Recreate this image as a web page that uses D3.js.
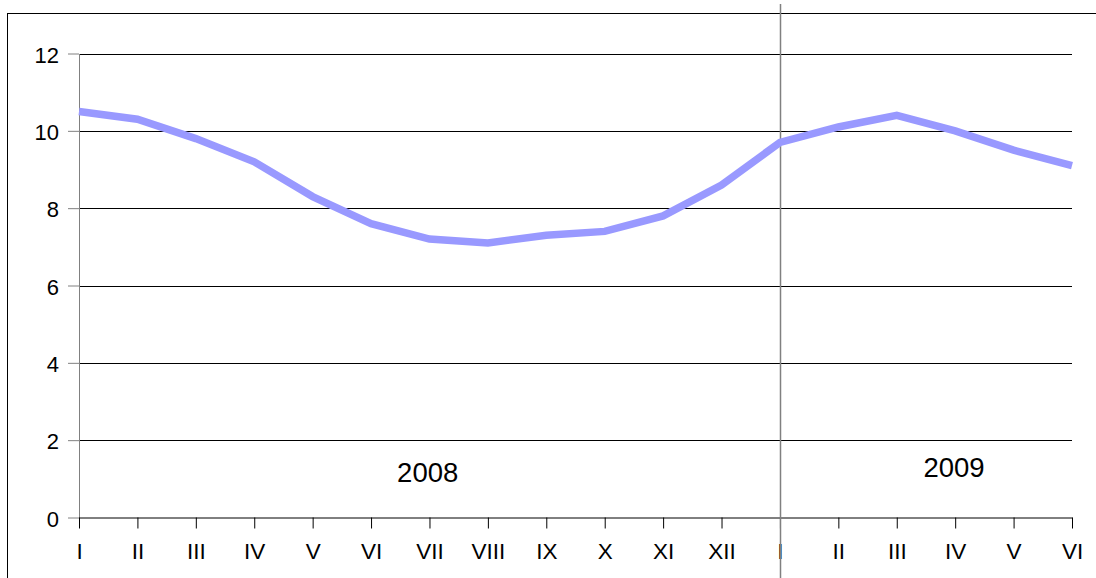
<!DOCTYPE html>
<html><head><meta charset="utf-8">
<script src="https://cdn.jsdelivr.net/npm/d3@7"></script>
<style>body{margin:0;background:#fff}svg{display:block;font-family:"Liberation Sans",Arial,sans-serif}</style>
</head><body>
<svg id="c" width="1096" height="578"></svg>
<script>
const months = ["I","II","III","IV","V","VI","VII","VIII","IX","X","XI","XII","I","II","III","IV","V","VI"];
const values = [10.5,10.3,9.8,9.2,8.3,7.6,7.2,7.1,7.3,7.4,7.8,8.6,9.7,10.1,10.4,10.0,9.5,9.1];
const yTicks = [0,2,4,6,8,10,12];
const years = ["2008","2009"];
const yearPos = [5.97,14.98];
const yearBreak = 12;

const svg = d3.select("#c");
const L = 79, R = 1072, T = 53.5, B = 517.5;
const x = d3.scaleLinear().domain([0, months.length-1]).range([L, R]);
const y = d3.scaleLinear().domain([0,12]).range([B, T]);

// outer frame
svg.append("rect").attr("x",7.5).attr("y",13.5).attr("width",1120).attr("height",600)
  .attr("fill","none").attr("stroke","#000").attr("stroke-width",1);

// gridlines
svg.append("g").selectAll("line").data(yTicks.filter(d=>d>0)).join("line")
  .attr("x1",L).attr("x2",R)
  .attr("y1",d=>Math.round(y(d))+0.5).attr("y2",d=>Math.round(y(d))+0.5)
  .attr("stroke","#000").attr("stroke-width",1);

// y axis
const ya = svg.append("g").attr("transform",`translate(${L},0)`)
  .call(d3.axisLeft(y).tickValues(yTicks).tickSize(11).tickPadding(9).tickSizeOuter(0));
ya.select(".domain").attr("stroke","#808080");
ya.selectAll(".tick line").attr("stroke","#808080");
ya.selectAll("text").attr("font-size",22).attr("fill","#000")
  .attr("font-family","'Liberation Sans',Arial,sans-serif").attr("dy","0.4em");

// x axis
const xa = svg.append("g").attr("transform",`translate(0,${B})`)
  .call(d3.axisBottom(x).tickValues(d3.range(months.length)).tickFormat(i=>months[i])
    .tickSize(11).tickPadding(15).tickSizeOuter(0));
xa.select(".domain").attr("stroke","#000");
xa.selectAll(".tick line").attr("stroke","#000");
xa.selectAll("text").attr("font-size",22.5).attr("fill","#000")
  .attr("font-family","'Liberation Sans',Arial,sans-serif");

// year divider
svg.append("line").attr("x1",Math.round(x(yearBreak))+0.5).attr("x2",Math.round(x(yearBreak))+0.5)
  .attr("y1",4).attr("y2",578).attr("stroke","#808080").attr("stroke-width",1.5);

// line
svg.append("path").datum(values)
  .attr("d",d3.line().x((d,i)=>x(i)).y(d=>y(d)))
  .attr("fill","none").attr("stroke","#9999ff").attr("stroke-width",7.5)
  .attr("stroke-linejoin","miter");

// year labels
svg.append("g").selectAll("text").data(years).join("text")
  .attr("x",(d,i)=>x(yearPos[i]))
  .attr("y",(d,i)=>i===0?481.5:477)
  .attr("text-anchor","middle").attr("font-size",27.5).attr("fill","#000")
  .text(d=>d);
</script>
</body></html>
